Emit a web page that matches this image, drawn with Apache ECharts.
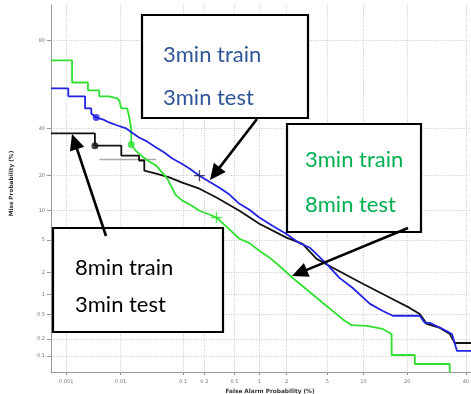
<!DOCTYPE html>
<html>
<head>
<meta charset="utf-8">
<script src="https://cdn.jsdelivr.net/npm/echarts@6/dist/echarts.min.js"></script>
<style>
  html, body { margin: 0; padding: 0; background: #fff; }
  #chart { width: 471px; height: 394px; }
</style>
</head>
<body>
<div id="chart"></div>
<script>
// Tick values (percent) on the normal-deviate (DET) axes
const xTicks = [0.001, 0.01, 0.1, 0.2, 0.5, 1, 2, 5, 10, 20, 40];
const yTicks = [0.1, 0.2, 0.5, 1, 2, 5, 10, 20, 40, 80];
const xRange = [0.0005, 42];
const yRange = [0.05, 90];

// DET curves as [false alarm %, miss %]
const green3train8test = [
  [0.0005, 72.3], [0.0013, 72.3], [0.0013, 62.4], [0.0026, 62.4], [0.0026, 58.6],
  [0.0042, 58.6], [0.0042, 55.7], [0.0063, 55.7], [0.0088, 54.7], [0.0095, 53.7],
  [0.0103, 49.7], [0.013, 49.7], [0.0141, 45.2], [0.0152, 39.9], [0.0152, 32.4],
  [0.018, 29.7], [0.0233, 27.2], [0.030, 25.2], [0.0387, 23.6], [0.0483, 21.0],
  [0.0577, 18.9], [0.067, 16.3], [0.0764, 14.0], [0.097, 12.4], [0.132, 11.2],
  [0.171, 10.0], [0.235, 9.2], [0.292, 8.6], [0.407, 6.8], [0.577, 5.15],
  [0.765, 4.6], [1.0, 3.75], [1.31, 3.1], [1.77, 2.32], [2.31, 1.71],
  [3.06, 1.25], [3.99, 0.90], [4.93, 0.68], [6.05, 0.51], [7.07, 0.40],
  [8.1, 0.34], [10.6, 0.33], [13.85, 0.294], [15.9, 0.243], [15.9, 0.104],
  [22.2, 0.104], [22.2, 0.071], [33.9, 0.071], [33.9, 0.05]
];
const blue3train3test = [
  [0.0005, 59.6], [0.0011, 59.6], [0.0011, 55.7], [0.0023, 55.7], [0.0023, 49.7],
  [0.003, 49.7], [0.003, 47.2], [0.0037, 45.2], [0.005, 44.2], [0.0063, 42.8],
  [0.0088, 41.3], [0.0125, 39.9], [0.0164, 37.5], [0.0205, 35.6], [0.028, 33.7],
  [0.0387, 31.1], [0.0519, 28.9], [0.0688, 26.4], [0.094, 24.4], [0.123, 22.5],
  [0.171, 19.9], [0.235, 17.9], [0.32, 16.0], [0.432, 14.0], [0.577, 11.6],
  [0.765, 10.2], [1.0, 8.6], [1.41, 7.1], [2.0, 5.8], [2.72, 4.6],
  [3.42, 4.1], [4.93, 2.6], [6.4, 1.71], [8.2, 1.25], [11.2, 0.73],
  [13.85, 0.57], [16.2, 0.48], [23.7, 0.48], [25.3, 0.37], [26.9, 0.37],
  [31.4, 0.294], [34.7, 0.243], [36.6, 0.123], [42, 0.123]
];
const black8train3test = [
  [0.0005, 37.5], [0.0035, 37.5], [0.0035, 31.9], [0.0103, 31.9], [0.0103, 27.6],
  [0.0205, 27.6], [0.0205, 25.6], [0.025, 25.6], [0.025, 21.7], [0.0387, 20.6],
  [0.062, 19.3], [0.097, 17.6], [0.171, 15.7], [0.292, 13.2], [0.577, 10.0],
  [1.0, 7.45], [2.0, 5.3], [2.92, 4.5], [3.99, 3.0], [5.6, 2.32],
  [9.9, 1.42], [15.5, 0.90], [20.7, 0.635], [23.7, 0.51], [25.9, 0.356],
  [30.4, 0.306], [33.9, 0.243], [35.8, 0.17], [42, 0.17]
];
const grayRef = [[0.0042, 26.0], [0.0387, 26.0]];

// Operating points
const circlePoints = [
  { name: 'blue',  value: [0.0037, 45.2], color: '#2323e6' },
  { name: 'green', value: [0.0152, 32.4], color: '#2fe02f' },
  { name: 'black', value: [0.0035, 31.9], color: '#111111' }
];
const plusPoints = [
  { name: 'blue',  value: [0.171, 19.9], color: '#1a1a50' },
  { name: 'green', value: [0.292, 8.6],  color: '#2fe02f' }
];

// Inverse standard normal CDF (Acklam)
function probit(p) {
  const a = [-3.969683028665376e+01, 2.209460984245205e+02, -2.759285104469687e+02,
             1.383577518672690e+02, -3.066479806614716e+01, 2.506628277459239e+00];
  const b = [-5.447609879822406e+01, 1.615858368580409e+02, -1.556989798598866e+02,
             6.680131188771972e+01, -1.328068155288572e+01];
  const c = [-7.784894002430293e-03, -3.223964580411365e-01, -2.400758277161838e+00,
             -2.549732539343734e+00, 4.374664141464968e+00, 2.938163982698783e+00];
  const d = [7.784695709041462e-03, 3.224671290700398e-01, 2.445134137142996e+00,
             3.754408661907416e+00];
  const pl = 0.02425, ph = 1 - pl;
  let q, r;
  if (p < pl) {
    q = Math.sqrt(-2 * Math.log(p));
    return (((((c[0]*q+c[1])*q+c[2])*q+c[3])*q+c[4])*q+c[5]) /
           ((((d[0]*q+d[1])*q+d[2])*q+d[3])*q+1);
  }
  if (p <= ph) {
    q = p - 0.5; r = q * q;
    return (((((a[0]*r+a[1])*r+a[2])*r+a[3])*r+a[4])*r+a[5]) * q /
           (((((b[0]*r+b[1])*r+b[2])*r+b[3])*r+b[4])*r+1);
  }
  q = Math.sqrt(-2 * Math.log(1 - p));
  return -(((((c[0]*q+c[1])*q+c[2])*q+c[3])*q+c[4])*q+c[5]) /
          ((((d[0]*q+d[1])*q+d[2])*q+d[3])*q+1);
}
const dev = pct => probit(pct / 100);
const toDev = pts => pts.map(([fa, miss]) => [dev(fa), dev(miss)]);

function tickLabel(ticks) {
  return v => {
    let best = ticks[0], bd = Infinity;
    ticks.forEach(t => { const dd = Math.abs(dev(t) - v); if (dd < bd) { bd = dd; best = t; } });
    return String(best);
  };
}

const gridStyle = { color: '#c8c8c8', width: 1, type: [1, 1.5] };
const labelStyle = { fontSize: 5, color: '#777', fontFamily: 'DejaVu Sans' };

function arrow(x1, y1, x2, y2) {
  const dx = x2 - x1, dy = y2 - y1, L = Math.hypot(dx, dy);
  const ux = dx / L, uy = dy / L, hl = 16, hw = 7.5;
  const bx = x2 - ux * hl, by = y2 - uy * hl;
  return [
    { type: 'line', z: 100, shape: { x1, y1, x2: bx + ux * 2, y2: by + uy * 2 },
      style: { stroke: '#000', lineWidth: 2.6 } },
    { type: 'polygon', z: 100,
      shape: { points: [[x2, y2], [bx - uy * hw, by + ux * hw], [bx + uy * hw, by - ux * hw]] },
      style: { fill: '#000' } }
  ];
}
function box(x, y, w, h) {
  return { type: 'rect', z: 90, shape: { x, y, width: w, height: h },
           style: { fill: '#fff', stroke: '#000', lineWidth: 2.2 } };
}
function label(text, x, y, color) {
  return { type: 'text', z: 95,
           style: { text, x, y, fill: color, font: '22px Lato', verticalAlign: 'middle' } };
}

const chart = echarts.init(document.getElementById('chart'));
chart.setOption({
  animation: false,
  backgroundColor: '#fff',
  grid: { left: 51, right: 0, top: 5, bottom: 22, containLabel: false, outerBoundsMode: 'none' },
  xAxis: {
    type: 'value', min: dev(xRange[0]), max: dev(xRange[1]),
    name: 'False Alarm Probability (%)', nameLocation: 'middle', nameGap: 14,
    nameTextStyle: { fontSize: 5.8, fontWeight: 'bold', color: '#333', fontFamily: 'DejaVu Sans', padding: [0, 0, 0, 18] },
    axisLine: { onZero: false, lineStyle: { color: '#999', width: 1 } },
    axisTick: { customValues: xTicks.map(dev), length: 3, lineStyle: { color: '#999' } },
    axisLabel: { customValues: xTicks.map(dev), formatter: tickLabel(xTicks), margin: 7, ...labelStyle },
    splitLine: { show: true, lineStyle: gridStyle }
  },
  yAxis: {
    type: 'value', min: dev(yRange[0]), max: dev(yRange[1]),
    name: 'Miss Probability (%)', nameLocation: 'middle', nameGap: 37,
    nameTextStyle: { fontSize: 5.8, fontWeight: 'bold', color: '#333', fontFamily: 'DejaVu Sans', padding: [0, 0, 0, 10] },
    axisLine: { show: true, onZero: false, lineStyle: { color: '#999', width: 1 } },
    axisTick: { show: true, customValues: yTicks.map(dev), length: 4, lineStyle: { color: '#999' } },
    axisLabel: { customValues: yTicks.map(dev), formatter: tickLabel(yTicks), margin: 6, ...labelStyle },
    splitLine: { show: true, lineStyle: gridStyle }
  },
  series: [
    { type: 'line', data: toDev(grayRef), symbol: 'none', lineStyle: { color: '#aaaaaa', width: 1.6 }, z: 3 },
    { type: 'line', data: toDev(black8train3test), symbol: 'none', lineStyle: { color: '#111', width: 1.8 }, z: 4 },
    { type: 'line', data: toDev(green3train8test), symbol: 'none', lineStyle: { color: '#2fe02f', width: 1.8 }, z: 5 },
    { type: 'line', data: toDev(blue3train3test), symbol: 'none', lineStyle: { color: '#2323e6', width: 1.8 }, z: 6 },
    { type: 'scatter', symbol: 'circle', symbolSize: 7, z: 7,
      data: circlePoints.map(p => ({ value: [dev(p.value[0]), dev(p.value[1])], itemStyle: { color: p.color } })) },
    { type: 'scatter', z: 7, symbolSize: 11,
      symbol: 'path://M4.4,0h1.2v10h-1.2z M0,4.4h10v1.2h-10z',
      data: plusPoints.map(p => ({ value: [dev(p.value[0]), dev(p.value[1])], itemStyle: { color: p.color } })) }
  ],
  graphic: [
    box(142, 15, 166, 103),
    label('3min train', 163, 55, '#2F5597'),
    label('3min test', 163, 98, '#2F5597'),
    box(287, 124, 134, 108),
    label('3min train', 305, 160, '#00B050'),
    label('8min test', 305, 205, '#00B050'),
    box(53, 228, 170, 104),
    label('8min train', 75, 268, '#000'),
    label('3min test', 75, 305, '#000'),
    ...arrow(257, 119, 210, 180),
    ...arrow(408, 228, 292, 276),
    ...arrow(106, 236, 72, 134)
  ]
});
</script>
</body>
</html>
